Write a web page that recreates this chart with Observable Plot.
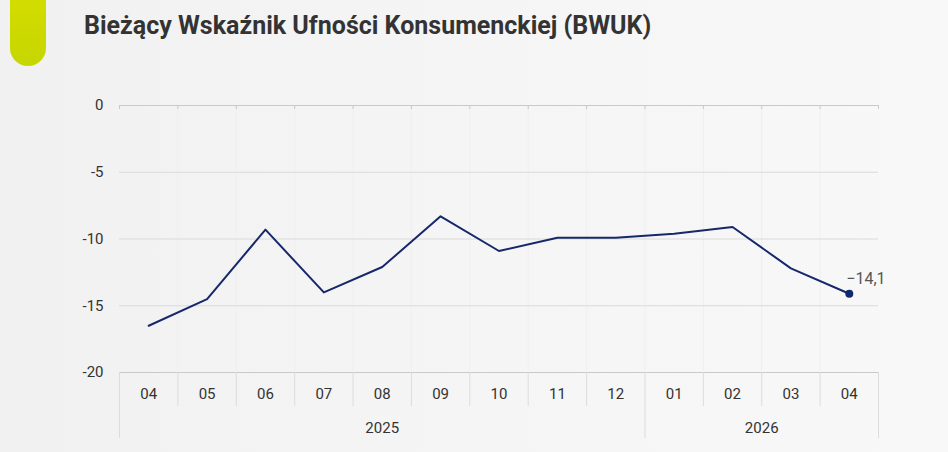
<!DOCTYPE html>
<html>
<head>
<meta charset="utf-8">
<script src="https://cdn.jsdelivr.net/npm/d3@7"></script>
<script src="https://cdn.jsdelivr.net/npm/@observablehq/plot@0.6"></script>
<style>
  html, body { margin: 0; padding: 0; }
  body { width: 948px; height: 452px; overflow: hidden; }
  #wrap { position: relative; width: 948px; height: 452px;
    background: linear-gradient(90deg, #f1f1f1 0%, #f5f5f5 50%, #f8f8f8 100%);
    font-family: Roboto, "Noto Sans", sans-serif; }
  #accent { position: absolute; left: 10px; top: -20px; width: 36px; height: 86px;
    background: linear-gradient(180deg, #d6de00 0%, #c6d600 100%);
    border-radius: 0 0 18px 18px; }
  #title { position: absolute; left: 84px; top: 11px; font-size: 25px; font-weight: 700;
    color: #333; letter-spacing: 0; white-space: nowrap; }
  #chart { position: absolute; left: 0; top: 0; }
</style>
</head>
<body>
<div id="wrap">
  <div id="accent"></div>
  <div id="title">Bieżący Wskaźnik Ufności Konsumenckiej (BWUK)</div>
  <div id="chart"></div>
</div>
<script>
const months = ["04","05","06","07","08","09","10","11","12","01","02","03","04"];
const monthYears = ["2025","2025","2025","2025","2025","2025","2025","2025","2025","2026","2026","2026","2026"];
const values = [-16.5,-14.5,-9.3,-14.0,-12.1,-8.3,-10.9,-9.9,-9.9,-9.6,-9.1,-12.2,-14.1];
const yTicks = [0,-5,-10,-15,-20];
const lastLabel = "−14,1";

const data = months.map((m, i) => ({i, month: m, year: monthYears[i], value: values[i]}));
const yearGroups = d3.groups(data, d => d.year).map(([year, rows]) => ({
  year, start: rows[0].i - 0.5, end: rows[rows.length - 1].i + 0.5
}));
const boundaries = d3.range(months.length + 1).map(i => i - 0.5);
const yearBounds = [yearGroups[0].start, ...yearGroups.map(g => g.end)];

const W = 948, H = 452, mt = 105, mb = 80;
const pxPerUnit = (H - mt - mb) / 20;
const yAt = p => -20 - (p - (H - mb)) / pxPerUnit; // pixel -> value for decorations below axis

const last = data[data.length - 1];

const chart = Plot.plot({
  width: W, height: H,
  marginTop: mt, marginBottom: mb, marginLeft: 119, marginRight: 70,
  style: {background: "transparent", fontFamily: "Roboto, 'Noto Sans', sans-serif", color: "#333"},
  x: {type: "linear", domain: [-0.5, months.length - 0.5], axis: null},
  y: {domain: [-20, 0], axis: null},
  marks: [
    Plot.ruleX(boundaries.slice(1, -1), {y1: 0, y2: -20, stroke: "#efefef", strokeWidth: 1}),
    Plot.ruleY([-5, -10, -15], {stroke: "#dadada"}),
    Plot.ruleY([0, -20], {stroke: "#c9c9c9"}),
    Plot.ruleX(boundaries, {y1: 0, y2: yAt(109), stroke: "#c9c9c9"}),
    Plot.ruleX(boundaries, {y1: -20, y2: yAt(406), stroke: "#dcdcdc"}),
    Plot.ruleX(yearBounds, {y1: yAt(406), y2: yAt(438), stroke: "#dcdcdc"}),
    Plot.axisY({ticks: yTicks, tickSize: 0, tickPadding: 16, tickFormat: d => String(d),
      fontSize: 15, label: null, fill: "#333"}),
    Plot.text(data, {x: "i", y: -20, dy: 22, text: "month", fontSize: 15, fill: "#333"}),
    Plot.text(yearGroups, {x: d => (d.start + d.end) / 2, y: -20, dy: 56, text: "year", fontSize: 15, fill: "#333"}),
    Plot.line(data, {x: "i", y: "value", stroke: "#16286a", strokeWidth: 2}),
    Plot.dot([last], {x: "i", y: "value", r: 4, fill: "#0f2a6e", stroke: "none"}),
    Plot.text([last], {x: "i", y: "value", text: () => lastLabel, dx: -3, dy: -15, textAnchor: "start",
      fontSize: 16, fill: "#555"})
  ]
});
document.getElementById("chart").appendChild(chart);
</script>
</body>
</html>
